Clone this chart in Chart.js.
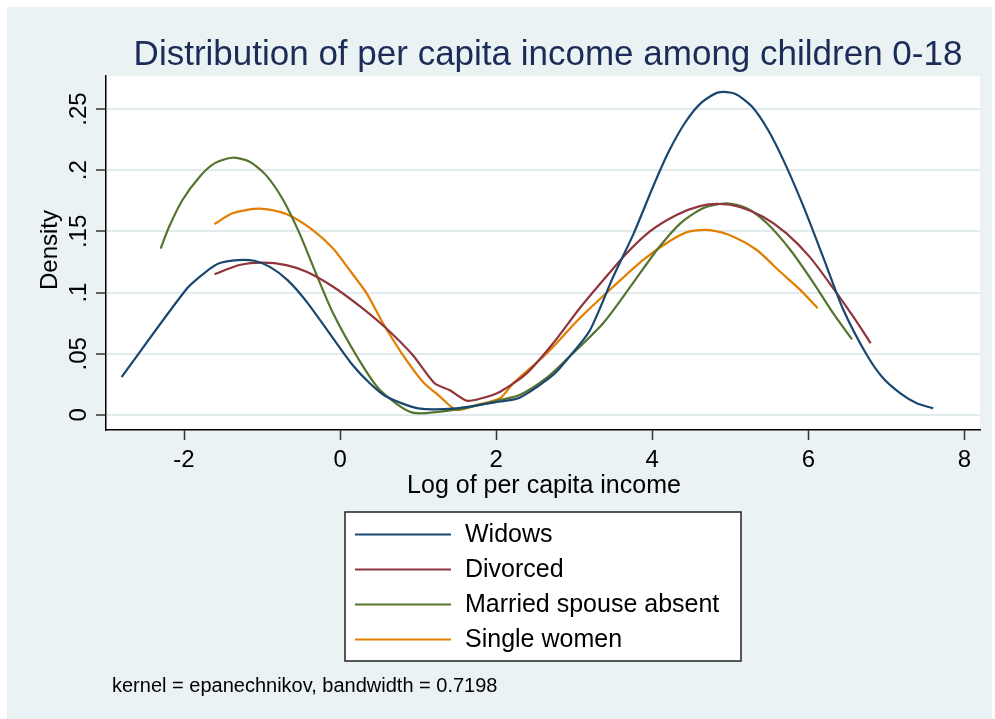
<!DOCTYPE html>
<html>
<head>
<meta charset="utf-8">
<script src="https://cdn.jsdelivr.net/npm/chart.js"></script>
<style>
  body { margin: 0; background: #fff; }
  canvas { display: block; }
</style>
</head>
<body>
<canvas id="kde" width="995" height="719"></canvas>
<script>
// series
const widowsX = [-2.80, -1.96, -1.72, -1.55, -1.31, -1.10, -0.90, -0.67, -0.43, -0.09, 0.16, 0.38, 0.59, 1.00, 1.49, 2.05, 2.30, 2.73, 2.94, 3.20, 3.50, 3.76, 4.01, 4.21, 4.42, 4.63, 4.85, 5.06, 5.28, 5.49, 5.70, 5.94, 6.19, 6.45, 6.75, 6.96, 7.18, 7.39, 7.60];
const widowsY = [0.031, 0.1035, 0.117, 0.124, 0.1266, 0.126, 0.121, 0.110, 0.0926, 0.0626, 0.0408, 0.0259, 0.015, 0.0054, 0.0054, 0.011, 0.0141, 0.0327, 0.0477, 0.069, 0.113, 0.148, 0.1865, 0.215, 0.2388, 0.2552, 0.2636, 0.2625, 0.2519, 0.2323, 0.2056, 0.170, 0.129, 0.0858, 0.049, 0.030, 0.0177, 0.0095, 0.0054];

const divorcedX = [-1.61, -1.29, -0.99, -0.69, -0.43, -0.09, 0.26, 0.59, 0.93, 1.21, 1.40, 1.62, 1.79, 2.05, 2.39, 2.73, 3.07, 3.37, 3.67, 3.97, 4.31, 4.61, 4.87, 5.12, 5.42, 5.72, 6.02, 6.32, 6.58, 6.80];
const divorcedY = [0.115, 0.1225, 0.1245, 0.1225, 0.117, 0.1048, 0.0885, 0.0708, 0.049, 0.0259, 0.0204, 0.0117, 0.0132, 0.019, 0.034, 0.0586, 0.0872, 0.110, 0.132, 0.150, 0.1634, 0.1707, 0.1724, 0.170, 0.162, 0.1484, 0.129, 0.1035, 0.080, 0.0586];

const marriedX = [-2.30, -2.19, -2.02, -1.80, -1.61, -1.38, -1.16, -0.95, -0.73, -0.52, -0.31, -0.09, 0.23, 0.51, 0.93, 1.53, 1.79, 2.05, 2.30, 2.65, 2.94, 3.37, 3.72, 4.06, 4.36, 4.65, 4.95, 5.21, 5.47, 5.77, 6.07, 6.32, 6.56];
const marriedY = [0.136, 0.154, 0.1757, 0.1947, 0.2056, 0.2102, 0.207, 0.196, 0.1757, 0.1484, 0.1158, 0.0831, 0.0463, 0.0204, 0.0019, 0.0047, 0.0082, 0.0123, 0.0163, 0.0305, 0.0477, 0.075, 0.1048, 0.1348, 0.1566, 0.1689, 0.173, 0.1689, 0.1566, 0.1348, 0.1076, 0.083, 0.0618];

const singleX = [-1.61, -1.38, -1.03, -0.69, -0.35, -0.09, 0.12, 0.34, 0.55, 0.79, 1.06, 1.28, 1.49, 1.75, 2.05, 2.22, 2.65, 3.07, 3.50, 3.88, 4.23, 4.48, 4.74, 5.04, 5.34, 5.64, 5.90, 6.12];
const singleY = [0.156, 0.1648, 0.1686, 0.1642, 0.1511, 0.136, 0.1185, 0.0994, 0.0749, 0.0504, 0.0272, 0.015, 0.0041, 0.0082, 0.0136, 0.026, 0.0504, 0.079, 0.1048, 0.1266, 0.1424, 0.150, 0.151, 0.1457, 0.1348, 0.117, 0.102, 0.0872];

const seriesNames = ['Widows', 'Divorced', 'Married spouse absent', 'Single women'];
const xTicks = [-2, 0, 2, 4, 6, 8];
const yTicks = [0, 0.05, 0.1, 0.15, 0.2, 0.25];
const yTickLabels = ['0', '.05', '.1', '.15', '.2', '.25'];

const titleText = 'Distribution of per capita income among children 0-18';
const noteText = 'kernel = epanechnikov, bandwidth = 0.7198';

const FONT = "'Liberation Sans', Arial, sans-serif";
const colors = ['#1A476F', '#90353B', '#55752F', '#E37E00'];

const toPoints = (xs, ys) => xs.map((x, i) => ({ x: x, y: ys[i] }));
const allX = [widowsX, divorcedX, marriedX, singleX];
const allY = [widowsY, divorcedY, marriedY, singleY];

// backgrounds, rotated labels, legend box and note
const stataLook = {
  id: 'stataLook',
  beforeDraw(chart) {
    const ctx = chart.ctx;
    const a = chart.chartArea;
    ctx.save();
    ctx.fillStyle = '#fff';
    ctx.fillRect(0, 0, chart.width, chart.height);
    ctx.fillStyle = '#EAF2F3';
    ctx.fillRect(7, 7, 985, 712);
    ctx.fillStyle = '#fff';
    ctx.fillRect(a.left, a.top, a.right - a.left, a.bottom - a.top);
    ctx.restore();
  },
  afterDraw(chart) {
    const ctx = chart.ctx;
    const ys = chart.scales.y;
    ctx.save();

    // title
    ctx.fillStyle = '#1C2C58';
    ctx.font = '35px ' + FONT;
    ctx.textAlign = 'center';
    ctx.textBaseline = 'alphabetic';
    ctx.fillText(titleText, 548, 65);

    // y tick labels, rotated
    ctx.fillStyle = '#000';
    ctx.font = '24px ' + FONT;
    yTicks.forEach((v, i) => {
      ctx.save();
      ctx.translate(86, ys.getPixelForValue(v));
      ctx.rotate(-Math.PI / 2);
      ctx.fillText(yTickLabels[i], 0, 0);
      ctx.restore();
    });

    // y axis title
    ctx.save();
    ctx.translate(57, 250);
    ctx.rotate(-Math.PI / 2);
    ctx.fillText('Density', 0, 0);
    ctx.restore();

    // x axis title
    ctx.font = '25px ' + FONT;
    ctx.fillText('Log of per capita income', 544, 493);

    // legend
    ctx.fillStyle = '#fff';
    ctx.fillRect(345, 512, 396, 149);
    ctx.strokeStyle = '#222';
    ctx.lineWidth = 1.5;
    ctx.strokeRect(345, 512, 396, 149);
    ctx.textAlign = 'left';
    ctx.textBaseline = 'middle';
    ctx.font = '25px ' + FONT;
    chart.data.datasets.forEach((ds, i) => {
      const y = 534.5 + i * 35;
      ctx.strokeStyle = ds.borderColor;
      ctx.lineWidth = 2.2;
      ctx.beginPath();
      ctx.moveTo(355, y);
      ctx.lineTo(451, y);
      ctx.stroke();
      ctx.fillStyle = '#000';
      ctx.fillText(ds.label, 465, y + 1);
    });

    // note
    ctx.textBaseline = 'alphabetic';
    ctx.font = '20px ' + FONT;
    ctx.fillText(noteText, 112, 692);
    ctx.restore();
  }
};

const ctx = document.getElementById('kde').getContext('2d');

const chart = new Chart(ctx, {
  type: 'scatter',
  data: {
    datasets: seriesNames.map((name, i) => ({
      label: name,
      data: toPoints(allX[i], allY[i]),
      showLine: true,
      borderColor: colors[i],
      backgroundColor: colors[i],
      borderWidth: 2.2,
      pointRadius: 0,
      tension: 0.25,
      fill: false,
    })),
  },
  options: {
    responsive: false,
    animation: false,
    events: [],
    layout: {
      padding: { left: 46, right: 15, top: 76, bottom: 229 },
    },
    plugins: {
      legend: { display: false },
      title: { display: false },
      tooltip: { enabled: false },
    },
    scales: {
      x: {
        type: 'linear',
        min: -3,
        max: 8.2,
        afterBuildTicks: (s) => { s.ticks = xTicks.map(v => ({ value: v })); },
        afterFit: (s) => { s.height = 60; },
        ticks: {
          color: '#000',
          padding: 6,
          maxRotation: 0,
          font: { family: FONT, size: 24 },
          callback: (v) => String(v),
        },
        grid: {
          drawOnChartArea: false,
          drawTicks: true,
          tickLength: 10,
          tickColor: '#333',
          tickWidth: 1.5,
        },
        border: { display: true, color: '#000', width: 1.5 },
      },
      y: {
        type: 'linear',
        min: -0.0123,
        max: 0.277,
        afterBuildTicks: (s) => { s.ticks = yTicks.map(v => ({ value: v })); },
        afterFit: (s) => { s.width = 60; },
        ticks: { display: false },
        grid: {
          color: '#E1EBEE',
          lineWidth: 2,
          drawTicks: true,
          tickLength: 10,
          tickColor: '#333',
          tickWidth: 1.5,
        },
        border: { display: true, color: '#000', width: 1.5 },
      },
    },
  },
  plugins: [stataLook],
});
</script>
</body>
</html>
